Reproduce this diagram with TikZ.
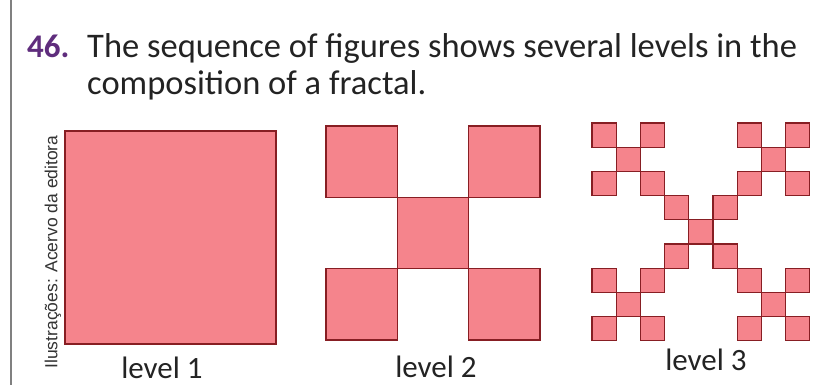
\documentclass[tikz,border=0pt]{standalone}
\usepackage{fontspec}
\setmainfont{Carlito}
\newfontfamily\creditfont{Liberation Sans}
\usetikzlibrary{positioning}
\definecolor{fracfill}{RGB}{245,132,140}
\definecolor{fracline}{RGB}{135,30,35}
\definecolor{numpurple}{RGB}{95,45,125}
\definecolor{txtgray}{RGB}{35,35,35}

\begin{document}
\begin{tikzpicture}[x=1pt, y=-1pt,
      cell/.style={fill=fracfill, draw=fracline, line width=1.3pt},
      smallcell/.style={cell, line width=1.3pt},
      txt/.style={font=\fontsize{34.5}{38}\selectfont, text=txtgray,
                  inner sep=0pt, anchor=base west},
      lbl/.style={txt, font=\fontsize{31}{38}\selectfont, anchor=base},
    ]
      \useasboundingbox (0,0) rectangle (820,385);
      \draw[gray, line width=1.2pt] (11,0) -- (11,385);

      % heading
      \node[txt, text=numpurple, font=\fontsize{33}{38}\selectfont\bfseries] (num) at (27,58) {46.};
      \node[txt] (l1) at (87,58) {The sequence of figures shows several levels in the};
      \node[txt] (l2) at (87,95) {composition of a fractal.};

      % credit
      \node[rotate=90, font=\creditfont\fontsize{17.5}{17.5}\selectfont,
            text=black!80, inner sep=0pt] (cred) at (53,252) {Ilustrações: Acervo da editora};

      % level 1
      \draw[cell] (65,131) rectangle (276,344);

      % level 2
      \foreach \i/\j in {0/0,2/0,1/1,0/2,2/2}
        \draw[cell] ({326+\i*71.3},{126+\j*71.3}) rectangle ++(71.3,71.3);

      % level 3
      \foreach \I/\J in {0/0,2/0,1/1,0/2,2/2}
        \foreach \i/\j in {0/0,2/0,1/1,0/2,2/2}
          \draw[smallcell] ({592+(3*\I+\i)*24.2},{123+(3*\J+\j)*24.2}) rectangle ++(24.2,24.2);

      \node[lbl] (lv1) at (162,378) {level 1};
      \node[lbl] (lv2) at (436,377) {level 2};
      \node[lbl] (lv3) at (706,370) {level 3};
    \end{tikzpicture}
\end{document}
